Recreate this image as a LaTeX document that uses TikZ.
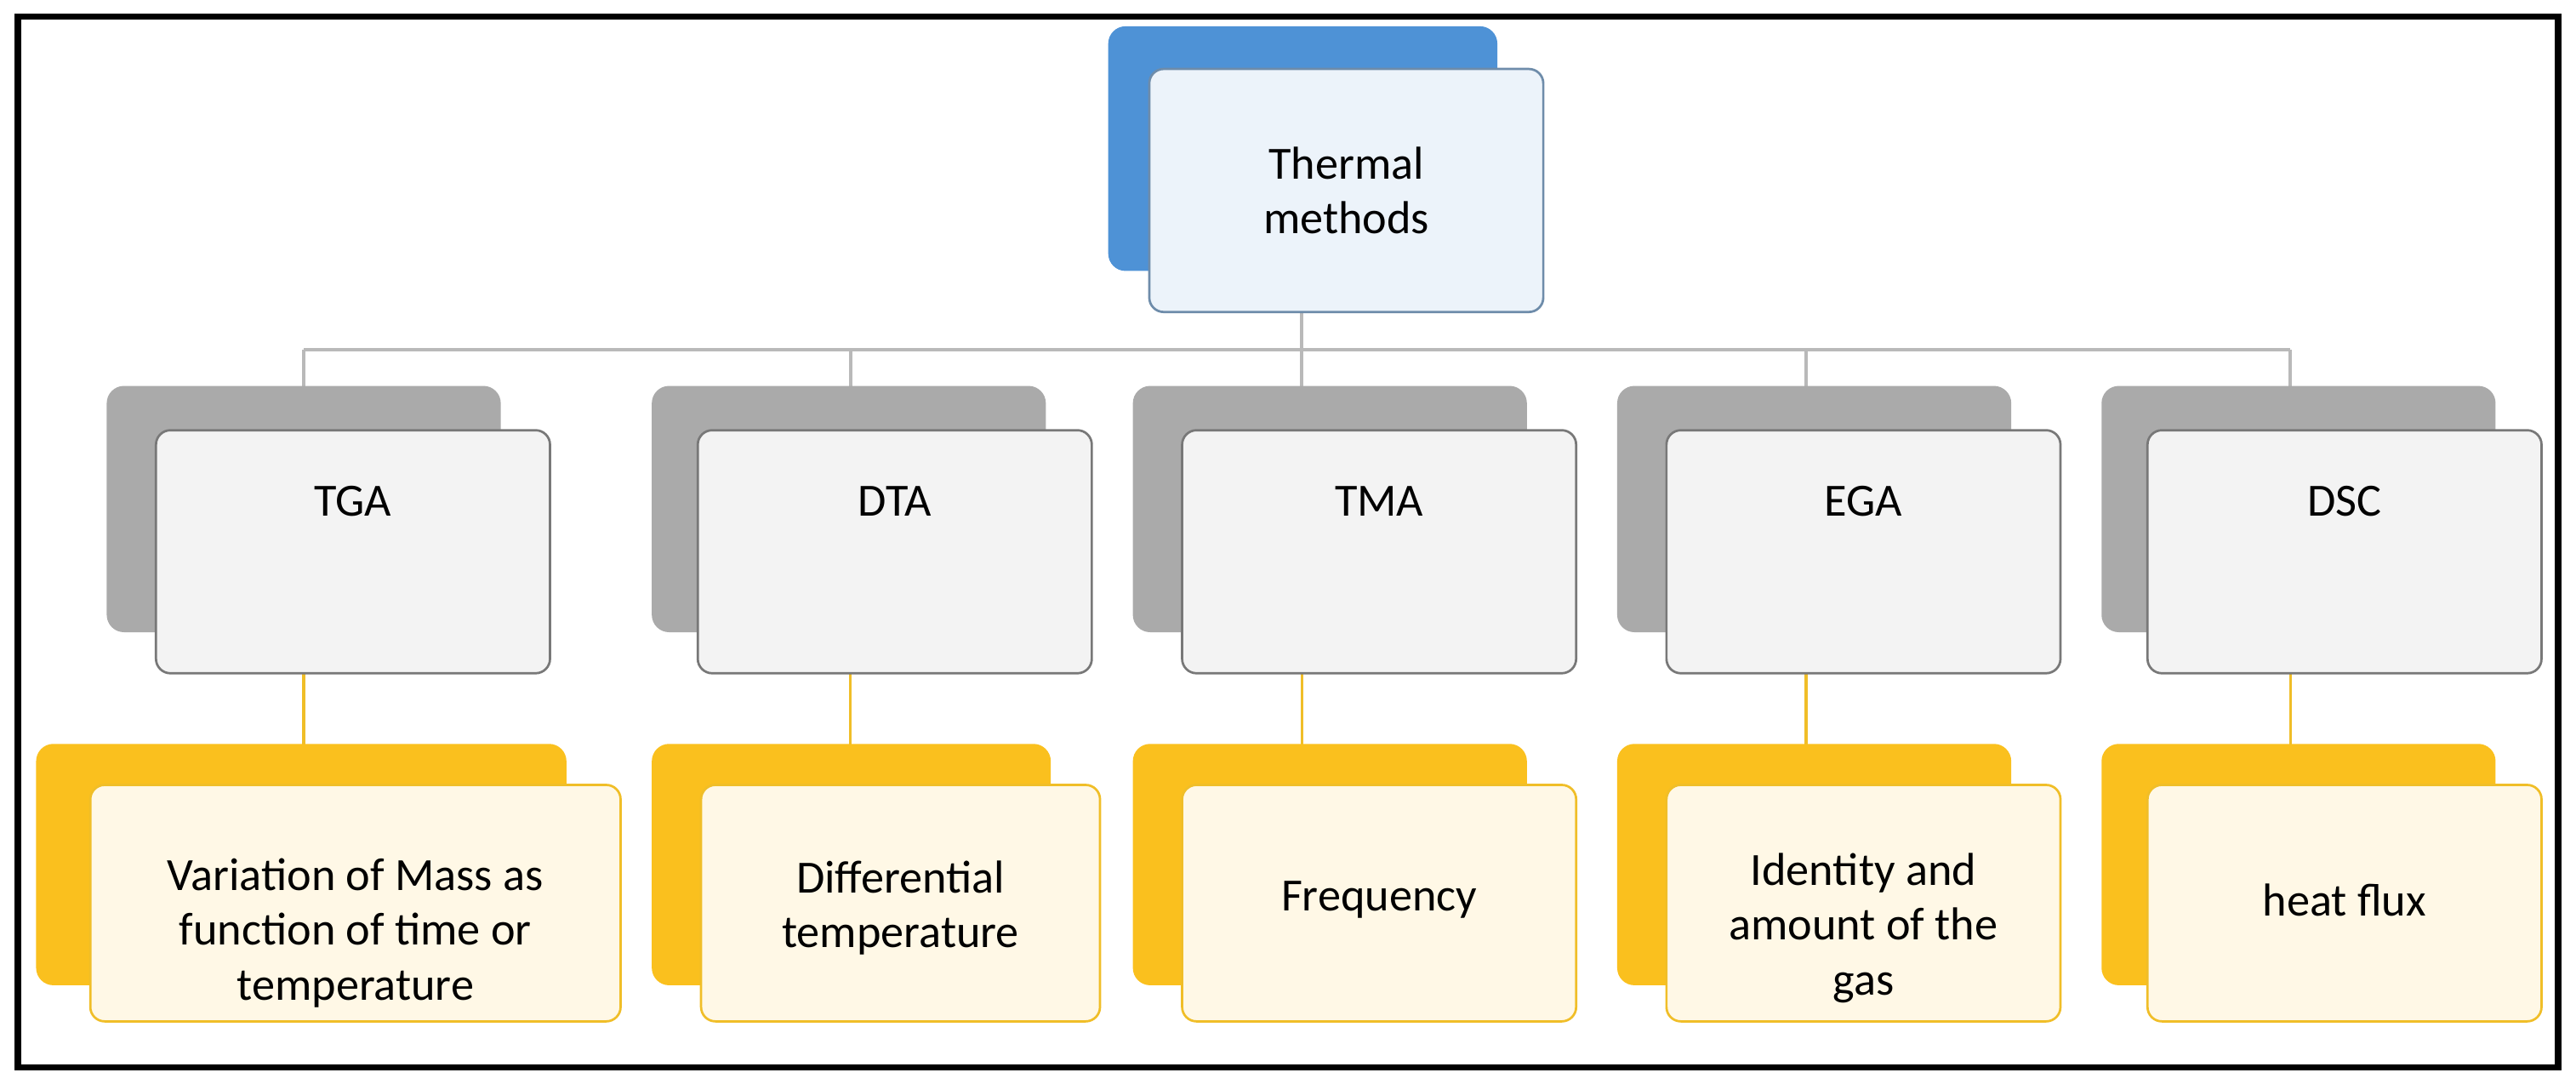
\documentclass[tikz,border=0pt]{standalone}
\usepackage{fontspec}
\setmainfont{Carlito}
\begin{document}
\begin{tikzpicture}[x=0.02cm,y=-0.02cm,
  box/.style={draw, rounded corners=5pt, line width=0.8pt, align=center, font=\fontsize{16}{19}\selectfont},
  bback/.style={rounded corners=6pt, fill=blueB, draw=none},
  bfront/.style={box, fill=blueF, draw=blueL},
  gback/.style={rounded corners=6pt, fill=grayB, draw=none},
  gfront/.style={box, fill=grayF, draw=grayL},
  yback/.style={rounded corners=6pt, fill=yelB, draw=none},
  yfront/.style={box, fill=yelF, draw=yelL},
  gline/.style={draw=grayC, line width=1.2pt},
  yline/.style={draw=yelL, line width=1pt},
  txt/.style={align=center, font=\fontsize{16}{19}\selectfont}]
\definecolor{blueB}{RGB}{78,146,214}
\definecolor{blueF}{RGB}{236,243,250}
\definecolor{blueL}{RGB}{110,140,170}
\definecolor{grayB}{RGB}{170,170,170}
\definecolor{grayF}{RGB}{243,243,243}
\definecolor{grayL}{RGB}{120,120,120}
\definecolor{grayC}{RGB}{185,185,185}
\definecolor{yelB}{RGB}{250,192,30}
\definecolor{yelF}{RGB}{255,248,230}
\definecolor{yelL}{RGB}{240,190,40}
\useasboundingbox (0,0) rectangle (1569,660);
\draw[line width=2.2pt] (11,10) rectangle (1558,650);
% connectors first (behind boxes)
\coordinate (topb) at (793,190);
\coordinate (hl) at (185,213);
\coordinate (hr) at (1395,213);
\draw[gline] (topb) -- (793,213);
\draw[gline] (hl) -- (hr);
\foreach \n/\cx in {a/185,b/518,c/793,d/1100,e/1395}{
  \coordinate (t\n) at (\cx,213);
  \coordinate (m\n) at (\cx,262);
  \draw[gline] (t\n) -- (m\n);
  \coordinate (s\n) at (\cx,410);
  \coordinate (u\n) at (\cx,478);
  \draw[yline] (s\n) -- (u\n);
}
% top
\fill[bback] (675,16) rectangle (912,165);
\draw[bfront] (700,42) rectangle (940,190);
\node[txt] (top) at (820,116) {Thermal\\methods};
% level 2 and 3
\foreach \n/\bx/\fx/\lab/\ybx/\yby/\yfx/\txt/\ty in {
  a/65/95/TGA/22/345/55/{Variation of Mass as\\function of time or\\temperature}/568,
  b/397/425/DTA/397/640/427/{Differential\\temperature}/553,
  c/690/720/TMA/690/930/720/{Frequency}/548,
  d/985/1015/EGA/985/1225/1015/{Identity and\\amount of the\\gas}/565,
  e/1280/1308/DSC/1280/1520/1308/{heat flux}/548}{
  \fill[gback] (\bx,235) rectangle ++(240,150);
  \draw[gfront] (\fx,262) rectangle ++(240,148);
  \node[txt] (l\n) at (\fx+120,305) {\lab};
  \fill[yback] (\ybx,453) rectangle (\yby,600);
  \draw[yfront] (\yfx,478) rectangle ++(\yby-\ybx,144);
  \node[txt] (r\n) at (\yfx+0.5*\yby-0.5*\ybx,\ty) {\txt};
}
\end{tikzpicture}
\end{document}
